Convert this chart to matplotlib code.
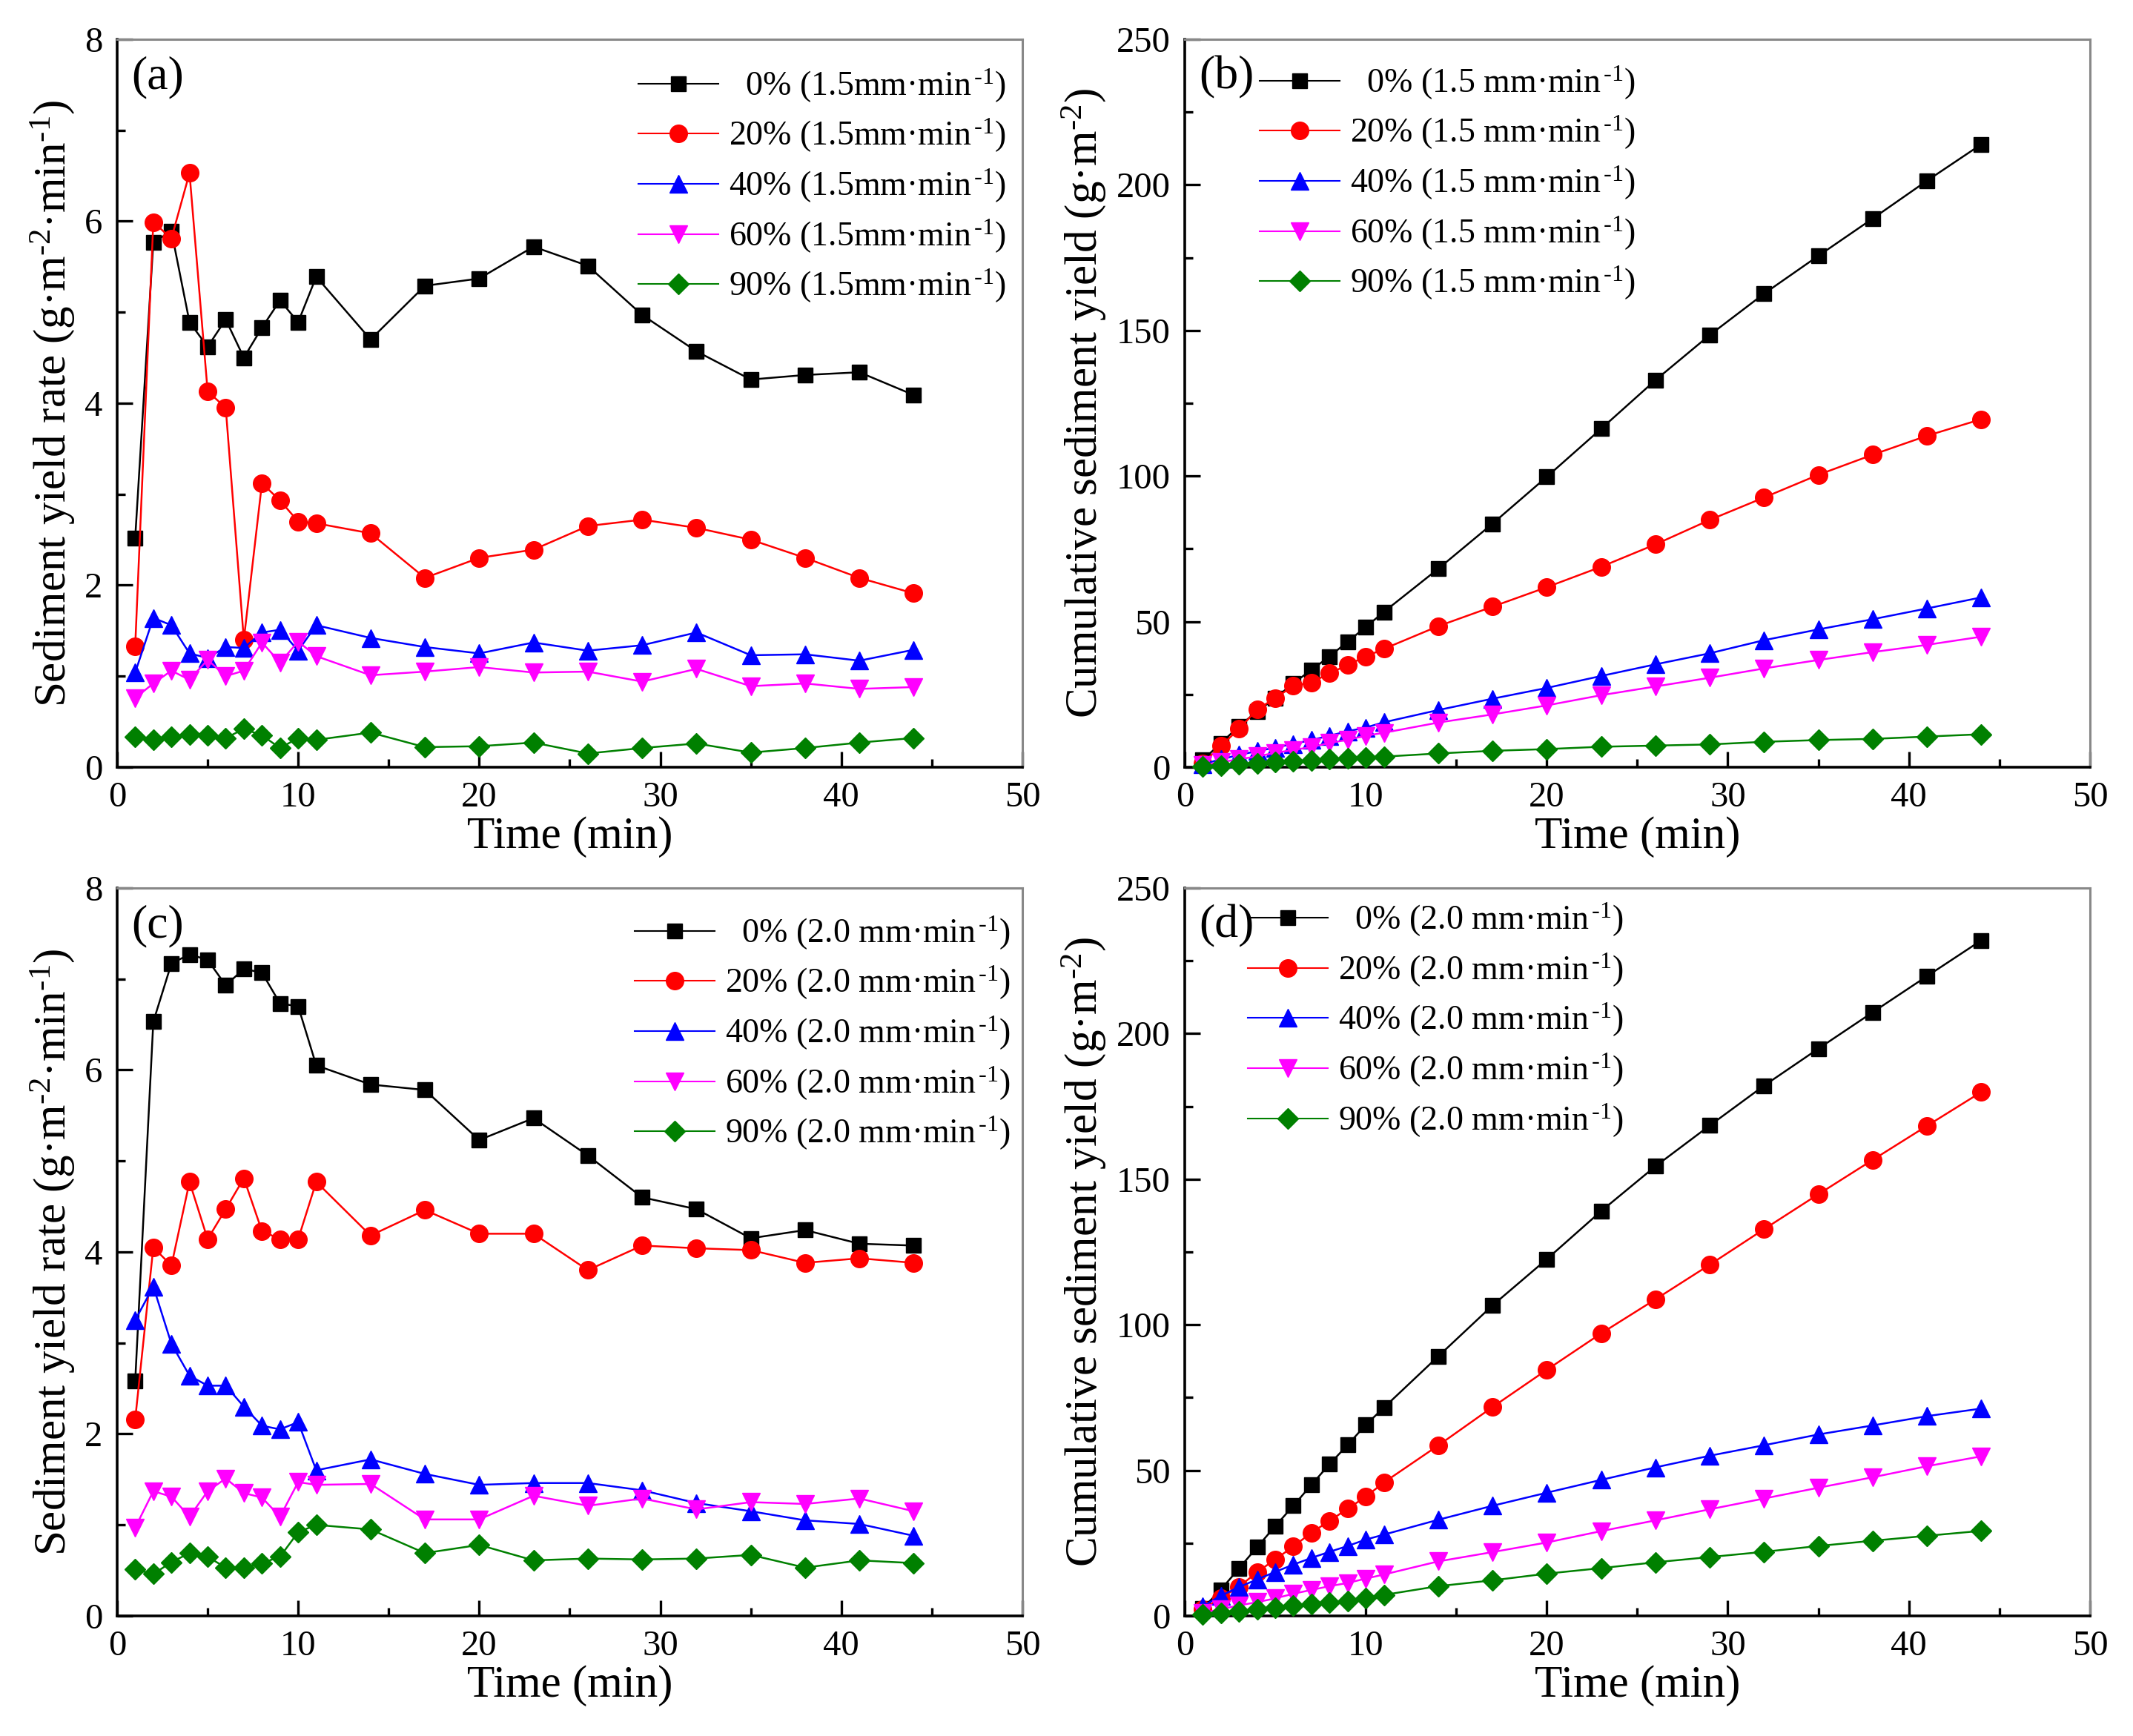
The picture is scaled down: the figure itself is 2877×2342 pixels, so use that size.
import numpy as np
import matplotlib
matplotlib.use("Agg")
import matplotlib.pyplot as plt
from matplotlib.ticker import MultipleLocator

plt.rcParams['font.family'] = ['Liberation Serif', 'DejaVu Serif']
plt.rcParams['mathtext.fontset'] = 'custom'
plt.rcParams['mathtext.rm'] = 'Liberation Serif'
plt.rcParams['mathtext.it'] = 'Liberation Serif:italic'

# time of each sample (min)
time = [1, 2, 3, 4, 5, 6, 7, 8, 9, 10, 11, 14, 17, 20, 23, 26, 29, 32, 35, 38, 41, 44]

# (a) sediment yield rate, 1.5 mm/min
rate15_0 = [2.52, 5.77, 5.89, 4.89, 4.62, 4.92, 4.50, 4.83, 5.13, 4.89, 5.39,
            4.70, 5.29, 5.37, 5.72, 5.51, 4.97, 4.57, 4.26, 4.31, 4.34, 4.09]
rate15_20 = [1.33, 5.99, 5.81, 6.53, 4.13, 3.95, 1.40, 3.12, 2.93, 2.70, 2.68,
             2.57, 2.08, 2.30, 2.39, 2.65, 2.72, 2.63, 2.50, 2.30, 2.08, 1.91]
rate15_40 = [1.04, 1.64, 1.56, 1.25, 1.20, 1.32, 1.31, 1.48, 1.51, 1.28, 1.56,
             1.42, 1.32, 1.25, 1.37, 1.28, 1.34, 1.48, 1.23, 1.24, 1.17, 1.29]
rate15_60 = [0.76, 0.92, 1.06, 0.96, 1.18, 1.00, 1.06, 1.37, 1.15, 1.38, 1.22,
             1.01, 1.05, 1.10, 1.04, 1.05, 0.94, 1.08, 0.89, 0.92, 0.86, 0.88]
rate15_90 = [0.33, 0.30, 0.33, 0.36, 0.35, 0.32, 0.42, 0.35, 0.21, 0.32, 0.30,
             0.38, 0.22, 0.23, 0.27, 0.15, 0.21, 0.26, 0.16, 0.21, 0.27, 0.32]

# (b) cumulative sediment yield, 1.5 mm/min
cum15_0 = [2.5, 8.2, 14.1, 19.1, 23.7, 28.8, 33.4, 38.0, 43.1, 48.1, 53.3,
           68.1, 83.6, 99.7, 116.2, 132.9, 148.4, 162.6, 175.6, 188.4, 201.4, 213.9]
cum15_20 = [1.3, 7.3, 13.1, 19.8, 23.7, 27.9, 29.1, 32.2, 35.1, 38.0, 40.6,
            48.4, 55.1, 61.8, 68.8, 76.5, 84.9, 92.6, 100.4, 107.3, 113.8, 119.5]
cum15_40 = [1.0, 2.7, 4.2, 5.5, 6.7, 8.0, 9.3, 10.8, 12.3, 13.6, 15.4,
            19.6, 23.5, 27.2, 31.3, 35.3, 39.1, 43.6, 47.3, 50.8, 54.5, 58.3]
cum15_60 = [0.8, 1.7, 2.7, 3.7, 4.9, 5.9, 6.9, 8.3, 9.4, 10.8, 11.8,
            15.3, 18.1, 21.2, 24.7, 27.7, 30.7, 33.9, 36.8, 39.5, 42.0, 44.8]
cum15_90 = [0.3, 0.6, 1.0, 1.3, 1.7, 2.0, 2.4, 2.8, 3.0, 3.3, 3.6,
            4.7, 5.6, 6.2, 7.0, 7.4, 7.8, 8.7, 9.3, 9.7, 10.5, 11.3]

# (c) sediment yield rate, 2.0 mm/min
rate20_0 = [2.58, 6.53, 7.17, 7.27, 7.21, 6.93, 7.11, 7.07, 6.73, 6.70, 6.05,
            5.84, 5.78, 5.23, 5.47, 5.06, 4.60, 4.47, 4.15, 4.24, 4.09, 4.07]
rate20_20 = [2.16, 4.05, 3.85, 4.77, 4.14, 4.47, 4.81, 4.23, 4.14, 4.14, 4.77,
             4.18, 4.46, 4.20, 4.20, 3.80, 4.07, 4.04, 4.02, 3.88, 3.93, 3.88]
rate20_40 = [3.25, 3.62, 2.99, 2.64, 2.53, 2.53, 2.30, 2.09, 2.05, 2.13, 1.60,
             1.72, 1.56, 1.44, 1.46, 1.46, 1.38, 1.24, 1.15, 1.05, 1.01, 0.88]
rate20_60 = [0.97, 1.37, 1.31, 1.09, 1.37, 1.51, 1.35, 1.30, 1.09, 1.47, 1.44,
             1.45, 1.06, 1.06, 1.32, 1.21, 1.29, 1.17, 1.25, 1.23, 1.29, 1.15]
rate20_90 = [0.51, 0.46, 0.59, 0.69, 0.65, 0.53, 0.53, 0.58, 0.65, 0.92, 1.00,
             0.95, 0.69, 0.78, 0.61, 0.63, 0.62, 0.63, 0.67, 0.53, 0.61, 0.58]

# (d) cumulative sediment yield, 2.0 mm/min
cum20_0 = [2.6, 9.0, 16.3, 23.6, 30.8, 37.8, 45.0, 52.1, 58.7, 65.6, 71.5,
           89.1, 106.6, 122.5, 139.0, 154.4, 168.4, 182.1, 194.8, 207.3, 219.7, 232.0]
cum20_20 = [2.2, 6.2, 10.0, 15.0, 19.4, 23.8, 28.6, 32.6, 36.8, 40.9, 45.8,
            58.5, 71.7, 84.5, 97.0, 108.7, 120.6, 132.8, 144.8, 156.6, 168.3, 179.9]
cum20_40 = [3.3, 6.9, 9.9, 12.5, 15.1, 17.6, 19.9, 22.0, 24.0, 26.2, 27.9,
            33.0, 37.8, 42.3, 46.7, 51.0, 55.0, 58.6, 62.3, 65.4, 68.6, 71.2]
cum20_60 = [1.0, 2.3, 3.6, 4.7, 6.0, 7.6, 8.9, 10.2, 11.3, 12.8, 14.2,
            18.7, 21.9, 25.2, 29.1, 32.8, 36.6, 40.3, 44.0, 47.6, 51.4, 54.8]
cum20_90 = [0.5, 1.0, 1.6, 2.3, 2.9, 3.5, 4.0, 4.6, 5.2, 6.2, 7.2,
            10.2, 12.2, 14.5, 16.4, 18.4, 20.2, 22.0, 24.0, 25.8, 27.5, 29.2]

slopes = ['0%', '20%', '40%', '60%', '90%']
colors = ['black', 'red', 'blue', 'magenta', 'green']
markers = ['s', 'o', '^', 'v', 'D']
msizes = [15, 17, 17, 17, 14]

SRC = 'mm\u00b7min$^{\\,\\text{-1}}$'


def labels_for(intensity, gap):
    out = []
    for s in slopes:
        pad = '  ' if s == '0%' else ''
        out.append(f'{pad}{s} ({intensity}{gap}{SRC})')
    return out


def style_axis(ax, ymax, ymajor, yminor):
    ax.set_xlim(0, 50)
    ax.set_ylim(0, ymax)
    ax.xaxis.set_major_locator(MultipleLocator(10))
    ax.xaxis.set_minor_locator(MultipleLocator(5))
    ax.yaxis.set_major_locator(MultipleLocator(ymajor))
    ax.yaxis.set_minor_locator(MultipleLocator(yminor))
    ax.tick_params(which='both', direction='in', top=False, right=False,
                   width=2.4, labelsize=35, pad=14)
    ax.tick_params(which='major', length=15)
    ax.tick_params(which='minor', length=8)
    for side in ['left', 'bottom']:
        ax.spines[side].set_linewidth(2.6)
        ax.spines[side].set_color('black')
    for side in ['top', 'right']:
        ax.spines[side].set_linewidth(2.2)
        ax.spines[side].set_color('#888888')
    ax.set_xlabel('Time (min)', fontsize=44, labelpad=2)


def draw(ax, series, labels, anchor):
    for y, c, m, ms, lab in zip(series, colors, markers, msizes, labels):
        ax.plot(time, y, color=c, marker=m, markersize=ms, linewidth=1.8,
                label=lab, clip_on=False, zorder=3)
    leg = ax.legend(loc='upper left', bbox_to_anchor=anchor, frameon=False,
                    fontsize=33, handlelength=2.35, handletextpad=0.3,
                    labelspacing=0.38, borderpad=0, borderaxespad=0)
    for ln in leg.get_lines():
        ln.set_linewidth(1.5)


fig = plt.figure(figsize=(28.77, 23.42), dpi=100)
w, h = 0.4244, 0.4193
ax_a = fig.add_axes([0.0549, 0.5581, w, h])
ax_b = fig.add_axes([0.5554, 0.5581, w, h])
ax_c = fig.add_axes([0.0549, 0.0692, w, h])
ax_d = fig.add_axes([0.5554, 0.0692, w, h])

rate_label = 'Sediment yield rate (g\u00b7m$^{\\text{-2}}$\u00b7min$^{\\text{-1}}$)'
cum_label = 'Cumulative sediment yield (g\u00b7m$^{\\text{-2}}$)'

draw(ax_a, [rate15_0, rate15_20, rate15_40, rate15_60, rate15_90],
     labels_for('1.5', ''), (0.576, 0.962))
style_axis(ax_a, 8, 2, 1)
ax_a.set_ylabel(rate_label, fontsize=44, labelpad=8)

draw(ax_b, [cum15_0, cum15_20, cum15_40, cum15_60, cum15_90],
     labels_for('1.5', ' '), (0.083, 0.966))
style_axis(ax_b, 250, 50, 25)
ax_b.set_ylabel(cum_label, fontsize=44, labelpad=8)

draw(ax_c, [rate20_0, rate20_20, rate20_40, rate20_60, rate20_90],
     labels_for('2.0', ' '), (0.572, 0.964))
style_axis(ax_c, 8, 2, 1)
ax_c.set_ylabel(rate_label, fontsize=44, labelpad=8)

draw(ax_d, [cum20_0, cum20_20, cum20_40, cum20_60, cum20_90],
     labels_for('2.0', ' '), (0.070, 0.982))
style_axis(ax_d, 250, 50, 25)
ax_d.set_ylabel(cum_label, fontsize=44, labelpad=8)

for ax, tag in zip([ax_a, ax_b, ax_c, ax_d], ['(a)', '(b)', '(c)', '(d)']):
    ax.text(0.016, 0.977, tag, transform=ax.transAxes, fontsize=46, va='top', ha='left')

fig.savefig('out.png', dpi=100)
